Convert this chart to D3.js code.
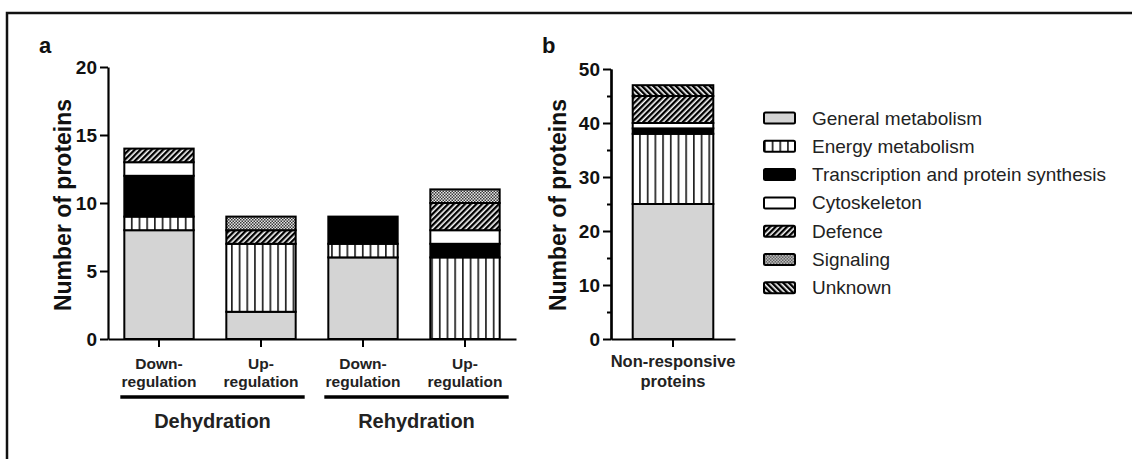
<!DOCTYPE html>
<html>
<head>
<meta charset="utf-8">
<script src="https://cdn.jsdelivr.net/npm/d3@7"></script>
<style>
  html, body { margin: 0; padding: 0; background: #fff; }
  svg { display: block; font-family: "Liberation Sans", Arial, sans-serif; }
</style>
</head>
<body>
<svg id="chart" width="1132" height="459"></svg>
<script>
// Protein functional categories (stack order, bottom to top)
const seriesNames = ["General metabolism", "Energy metabolism", "Transcription and protein synthesis",
  "Cytoskeleton", "Defence", "Signaling", "Unknown"];

// Panel a: responsive proteins
const conditionLabels = [["Down-", "regulation"], ["Up-", "regulation"], ["Down-", "regulation"], ["Up-", "regulation"]];
const conditionGroups = ["Dehydration", "Dehydration", "Rehydration", "Rehydration"];
const generalMetabolism = [8, 2, 6, 0];
const energyMetabolism = [1, 5, 1, 6];
const transcriptionSynthesis = [3, 0, 2, 1];
const cytoskeleton = [1, 0, 0, 1];
const defence = [1, 1, 0, 2];
const signaling = [0, 1, 0, 1];
const unknown = [0, 0, 0, 0];
const ticksA = [0, 5, 10, 15, 20];

// Panel b: non-responsive proteins (one value per series, same order)
const nonResponsiveLabel = ["Non-responsive", "proteins"];
const nonResponsive = [25, 13, 1, 1, 5, 0, 2];
const ticksB = [0, 10, 20, 30, 40, 50];
const minorTicksB = [5, 15, 25, 35, 45];

const svg = d3.select("#chart");

// ---- fill patterns ----
const defs = svg.append("defs");
const patV = defs.append("pattern").attr("id", "p-energy").attr("patternUnits", "userSpaceOnUse")
  .attr("width", 7.7).attr("height", 10);
patV.append("rect").attr("width", 7.7).attr("height", 10).attr("fill", "#fff");
patV.append("rect").attr("x", 0).attr("width", 1.7).attr("height", 10).attr("fill", "#222");

function diag(id, angle) {
  const p = defs.append("pattern").attr("id", id).attr("patternUnits", "userSpaceOnUse")
    .attr("width", 4).attr("height", 4).attr("patternTransform", `rotate(${angle})`);
  p.append("rect").attr("width", 4).attr("height", 4).attr("fill", "#fff");
  p.append("rect").attr("width", 2.4).attr("height", 4).attr("fill", "#000");
}
diag("p-defence", 45);
diag("p-unknown", -45);

const patS = defs.append("pattern").attr("id", "p-signal").attr("patternUnits", "userSpaceOnUse")
  .attr("width", 3).attr("height", 3);
patS.append("rect").attr("width", 3).attr("height", 3).attr("fill", "#e4e4e4");
patS.append("rect").attr("width", 1.5).attr("height", 1.5).attr("fill", "#3a3a3a");
patS.append("rect").attr("x", 1.5).attr("y", 1.5).attr("width", 1.5).attr("height", 1.5).attr("fill", "#3a3a3a");

const fills = ["#d4d4d4", "url(#p-energy)", "#000", "#fff", "url(#p-defence)", "url(#p-signal)", "url(#p-unknown)"];

// ---- outer frame ----
svg.append("path").attr("d", "M7,470 L7,13 L1140,13").attr("fill", "none")
  .attr("stroke", "#111").attr("stroke-width", 2.5);

// ---- panel a ----
const seriesA = [generalMetabolism, energyMetabolism, transcriptionSynthesis, cytoskeleton, defence, signaling, unknown];
const rowsA = conditionLabels.map((_, i) => {
  const r = { idx: i };
  seriesNames.forEach((s, k) => r[s] = seriesA[k][i]);
  return r;
});
const stackedA = d3.stack().keys(seriesNames)(rowsA);

const xA = d3.scaleBand().domain(d3.range(conditionLabels.length)).range([108, 516])
  .paddingInner(0.32).paddingOuter(0.16);
const yA = d3.scaleLinear().domain([0, 20]).range([339, 67]);

const gA = svg.append("g");
gA.selectAll("g.layer").data(stackedA).join("g").attr("class", "layer")
  .attr("fill", (d, i) => fills[i])
  .selectAll("rect").data(d => d.filter(v => v[1] > v[0])).join("rect")
  .attr("x", d => xA(d.data.idx)).attr("width", xA.bandwidth())
  .attr("y", d => yA(d[1])).attr("height", d => yA(d[0]) - yA(d[1]))
  .attr("stroke", "#000").attr("stroke-width", 2);

const axisStyle = g => {
  g.selectAll("path.domain").attr("stroke", "#000").attr("stroke-width", 2.2);
  g.selectAll(".tick line").attr("stroke", "#000").attr("stroke-width", 2);
};

const yAxisA = gA.append("g").attr("transform", "translate(108,0)")
  .call(d3.axisLeft(yA).tickValues(ticksA).tickSize(8).tickSizeOuter(0).tickPadding(3))
  .call(axisStyle);
yAxisA.selectAll(".tick text").attr("font-size", 19).attr("font-weight", "bold")
  .attr("font-family", "Liberation Sans, Arial, sans-serif").attr("fill", "#111");

gA.append("g").attr("transform", "translate(0,339)")
  .call(d3.axisBottom(xA).tickSize(8).tickSizeOuter(0).tickFormat(""))
  .call(axisStyle);

// category labels (two lines)
conditionLabels.forEach((lines, i) => {
  const cx = xA(i) + xA.bandwidth() / 2;
  const t = gA.append("text").attr("x", cx).attr("text-anchor", "middle")
    .attr("font-size", 15.5).attr("font-weight", "bold").attr("fill", "#222");
  lines.forEach((ln, j) => t.append("tspan").attr("x", cx).attr("y", 369 + j * 18).text(ln));
});

// group underlines and names
const groupNames = Array.from(new Set(conditionGroups));
groupNames.forEach(gname => {
  const idx = d3.range(conditionGroups.length).filter(i => conditionGroups[i] === gname);
  const x0 = xA(idx[0]) - 4, x1 = xA(idx[idx.length - 1]) + xA.bandwidth() + 9;
  gA.append("line").attr("x1", x0).attr("x2", x1).attr("y1", 397).attr("y2", 397)
    .attr("stroke", "#000").attr("stroke-width", 3.5);
  gA.append("text").attr("x", (x0 + x1) / 2).attr("y", 428).attr("text-anchor", "middle")
    .attr("font-size", 20).attr("font-weight", "bold").attr("fill", "#222").text(gname);
});

gA.append("text").attr("transform", "translate(71,205) rotate(-90)").attr("text-anchor", "middle")
  .attr("font-size", 23).attr("font-weight", "bold").attr("fill", "#111").text("Number of proteins");
gA.append("text").attr("x", 39).attr("y", 53).attr("font-size", 22).attr("font-weight", "bold")
  .attr("fill", "#111").text("a");

// ---- panel b ----
const rowB = { idx: 0 };
seriesNames.forEach((s, k) => rowB[s] = nonResponsive[k]);
const stackedB = d3.stack().keys(seriesNames)([rowB]);

const xB = d3.scaleBand().domain([0]).range([611, 735]).paddingInner(0.35).paddingOuter(0.175);
const yB = d3.scaleLinear().domain([0, 50]).range([339, 69]);

const gB = svg.append("g");
gB.selectAll("g.layer").data(stackedB).join("g").attr("class", "layer")
  .attr("fill", (d, i) => fills[i])
  .selectAll("rect").data(d => d.filter(v => v[1] > v[0])).join("rect")
  .attr("x", d => xB(d.data.idx)).attr("width", xB.bandwidth())
  .attr("y", d => yB(d[1])).attr("height", d => yB(d[0]) - yB(d[1]))
  .attr("stroke", "#000").attr("stroke-width", 2);

gB.append("g").attr("transform", "translate(611,0)")
  .call(d3.axisLeft(yB).tickValues(minorTicksB).tickSize(4).tickSizeOuter(0).tickFormat(""))
  .call(axisStyle);
const yAxisB = gB.append("g").attr("transform", "translate(611,0)")
  .call(d3.axisLeft(yB).tickValues(ticksB).tickSize(8).tickSizeOuter(0).tickPadding(3))
  .call(axisStyle);
yAxisB.selectAll(".tick text").attr("font-size", 19).attr("font-weight", "bold")
  .attr("font-family", "Liberation Sans, Arial, sans-serif").attr("fill", "#111");

gB.append("g").attr("transform", "translate(0,339)")
  .call(d3.axisBottom(xB).tickSize(8).tickSizeOuter(0).tickFormat(""))
  .call(axisStyle);

const tb = gB.append("text").attr("text-anchor", "middle").attr("font-size", 16.5)
  .attr("font-weight", "bold").attr("fill", "#222");
nonResponsiveLabel.forEach((ln, j) => tb.append("tspan").attr("x", 673).attr("y", 367 + j * 20).text(ln));

gB.append("text").attr("transform", "translate(566,205) rotate(-90)").attr("text-anchor", "middle")
  .attr("font-size", 23).attr("font-weight", "bold").attr("fill", "#111").text("Number of proteins");
gB.append("text").attr("x", 542).attr("y", 53).attr("font-size", 22).attr("font-weight", "bold")
  .attr("fill", "#111").text("b");

// ---- legend ----
const legend = svg.append("g").attr("transform", "translate(764,118)");
const items = legend.selectAll("g").data(seriesNames).join("g")
  .attr("transform", (d, i) => `translate(0,${i * 28.3})`);
items.append("rect").attr("x", 0).attr("y", -5.5).attr("width", 31).attr("height", 11)
  .attr("rx", 1.5).attr("fill", (d, i) => fills[i]).attr("stroke", "#000").attr("stroke-width", 2);
items.append("text").attr("x", 48).attr("y", 6.5).attr("font-size", 19).attr("fill", "#222").text(d => d);
</script>
</body>
</html>
